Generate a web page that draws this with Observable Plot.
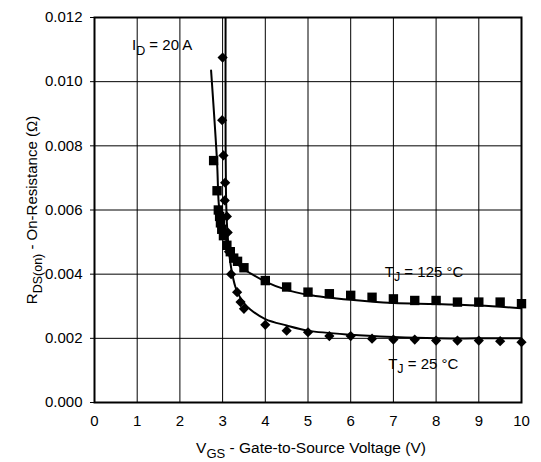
<!DOCTYPE html>
<html><head><meta charset="utf-8">
<script src="https://cdn.jsdelivr.net/npm/d3@7"></script>
<script src="https://cdn.jsdelivr.net/npm/@observablehq/plot@0.6"></script>
<style>
body{margin:0;background:#fff}
svg{font-family:"Liberation Sans",Arial,Helvetica,sans-serif}
</style>
</head><body><div id="chart"></div><script>
const xTicks = [0,1,2,3,4,5,6,7,8,9,10];
const yTicks = [0,0.002,0.004,0.006,0.008,0.010,0.012];

// T_J = 125 °C measured points (squares)
const vgs125 = [2.79,2.87,2.9,2.93,2.95,2.98,3.02,3.1,3.18,3.26,3.35,3.5,4,4.5,5,5.5,6,6.5,7,7.5,8,8.5,9,9.5,10];
const r125   = [0.00754,0.0066,0.0060,0.0058,0.0056,0.0054,0.0052,0.0049,0.0047,0.0045,0.0044,0.0042,0.0038,0.0036,0.00344,0.00339,0.00334,0.00328,0.00323,0.00318,0.00318,0.00313,0.00313,0.00313,0.00308];

// T_J = 25 °C measured points (diamonds)
const vgs25 = [3.0,2.99,3.02,3.06,3.05,3.1,3.12,3.15,3.2,3.34,3.42,3.5,4,4.5,5,5.5,6,6.5,7,7.5,8,8.5,9,9.5,10];
const r25   = [0.01075,0.0088,0.0077,0.00685,0.0063,0.0058,0.0053,0.0047,0.0040,0.00344,0.00313,0.00292,0.00242,0.00224,0.00219,0.00207,0.00207,0.00199,0.00196,0.00196,0.00193,0.00193,0.00193,0.00191,0.00188];

// fitted curves
const fit125X = [2.73,2.87,2.91,2.96,3.03,3.1,3.19,3.3,3.42,3.61,4.0,4.5,5,6,7,8,9,10];
const fit125Y = [0.01035,0.0075,0.0062,0.0057,0.0053,0.0050,0.00464,0.0044,0.00422,0.00406,0.00377,0.00351,0.00336,0.0032,0.0031,0.00307,0.00302,0.00294];
const fit25X = [3.07,3.07,3.08,3.1,3.15,3.2,3.3,3.4,3.5,3.65,4,4.5,5,6,7,8,9,10];
const fit25Y = [0.0125,0.0080,0.0065,0.0056,0.0047,0.0042,0.0036,0.0033,0.0031,0.0029,0.0026,0.0024,0.00224,0.00211,0.00204,0.0020,0.0020,0.0020];

const pts125 = vgs125.map((v,i)=>({x:v,y:r125[i]}));
const pts25 = vgs25.map((v,i)=>({x:v,y:r25[i]}));
const line125 = fit125X.map((v,i)=>({x:v,y:fit125Y[i]}));
const line25 = fit25X.map((v,i)=>({x:v,y:fit25Y[i]}));

const plot = Plot.plot({
  width: 541, height: 462,
  marginLeft: 94, marginRight: 20, marginTop: 17, marginBottom: 60,
  style: {fontSize: "15px", fontFamily: "'Liberation Sans', Arial, sans-serif", color: "#000", background: "#fff"},
  x: {domain: [0,10], ticks: xTicks},
  y: {domain: [0,0.012], ticks: yTicks},
  marks: [
    Plot.gridX(xTicks, {stroke: "#000", strokeOpacity: 1, strokeWidth: 1}),
    Plot.gridY(yTicks, {stroke: "#000", strokeOpacity: 1, strokeWidth: 1}),
    Plot.axisX(xTicks, {tickSize: 0, tickPadding: 13, tickFormat: d => String(d), label: null, fontSize: 15}),
    Plot.axisY(yTicks, {tickSize: 4, tickPadding: 8, tickFormat: ".3f", label: null, fontSize: 15}),
    Plot.line(line125, {x: "x", y: "y", stroke: "#000", strokeWidth: 2, curve: "catmull-rom", clip: true}),
    Plot.line(line25, {x: "x", y: "y", stroke: "#000", strokeWidth: 2, curve: "catmull-rom", clip: true}),
    Plot.dot(pts125, {x: "x", y: "y", symbol: "square", r: 5.3, fill: "#000", stroke: "none"}),
    Plot.dot(pts25, {x: "x", y: "y", symbol: "diamond2", r: 4.6, fill: "#000", stroke: "none"}),
    Plot.frame({stroke: "#000", strokeWidth: 2})
  ]
});
document.getElementById("chart").appendChild(plot);

const svg = d3.select(plot);
const sx = plot.scale("x"), sy = plot.scale("y");
function sub(sel, main, subs, rest, size, subSize, anchor) {
  sel.attr("font-size", size).attr("fill", "#000").attr("text-anchor", anchor);
  sel.append("tspan").text(main);
  sel.append("tspan").attr("font-size", subSize).attr("dy", 4.5).text(subs);
  sel.append("tspan").attr("dy", -4.5).text(rest);
  return sel;
}
// annotations
sub(svg.append("text").attr("x", sx.apply(0.89)).attr("y", sy.apply(0.01097)), "I", "D", " = 20 A", 15, 12.5, "start");
sub(svg.append("text").attr("x", sx.apply(6.81)).attr("y", sy.apply(0.0039)), "T", "J", " = 125 °C", 15, 12.5, "start");
sub(svg.append("text").attr("x", sx.apply(6.89)).attr("y", sy.apply(0.00103)), "T", "J", " = 25 °C", 15, 12.5, "start");
// axis titles
sub(svg.append("text").attr("x", 311).attr("y", 453), "V", "GS", " - Gate-to-Source Voltage (V)", 15.5, 13, "middle");
sub(svg.append("text").attr("transform", "translate(37,210) rotate(-90)"), "R", "DS(on)", " - On-Resistance (Ω)", 15, 12.5, "middle");
</script></body></html>
